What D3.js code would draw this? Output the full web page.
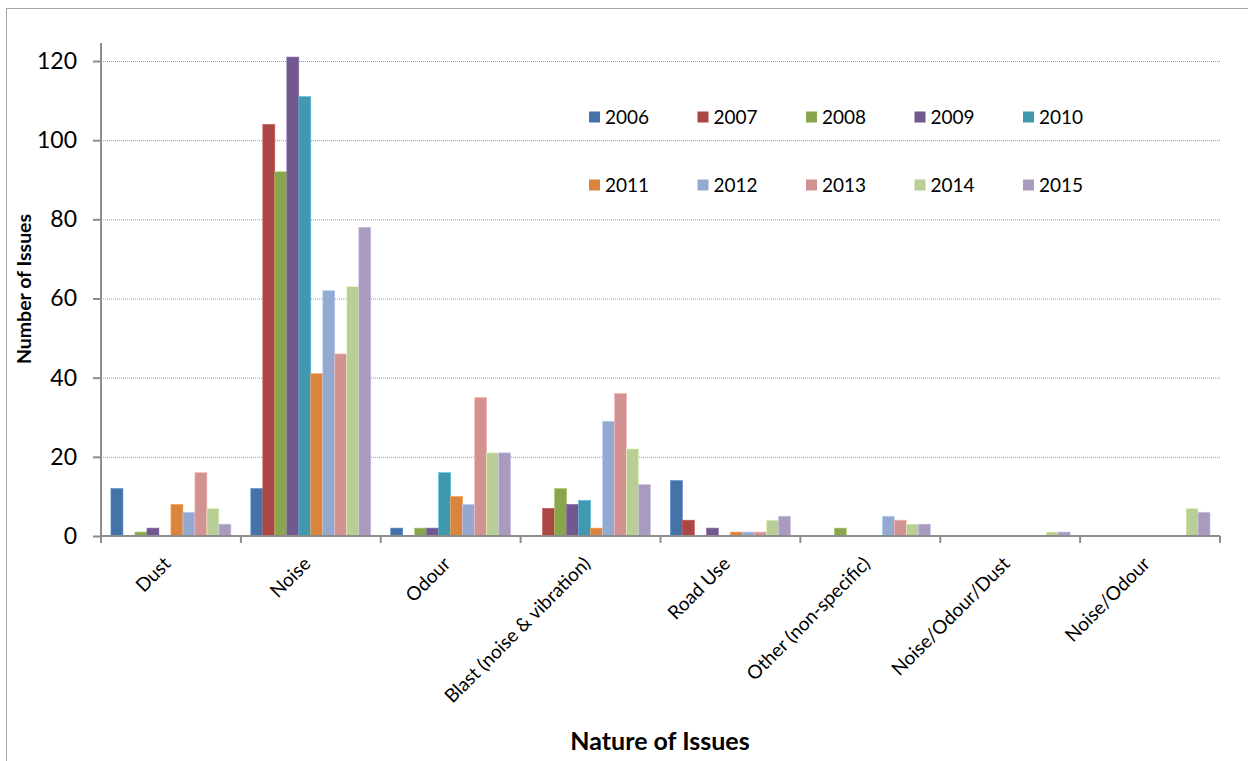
<!DOCTYPE html>
<html><head><meta charset="utf-8">
<script src="https://cdn.jsdelivr.net/npm/d3@7"></script>
<style>body{margin:0;background:#fff;font-family:Lato,"Liberation Sans",sans-serif;}</style>
</head><body>
<svg id="c" width="1248" height="761"></svg>
<script>
const categories = ["Dust","Noise","Odour","Blast (noise & vibration)","Road Use","Other (non-specific)","Noise/Odour/Dust","Noise/Odour"];
const years = ["2006","2007","2008","2009","2010","2011","2012","2013","2014","2015"];
const v2006 = [12,12,2,0,14,0,0,0];
const v2007 = [0,104,0,7,4,0,0,0];
const v2008 = [1,92,2,12,0,2,0,0];
const v2009 = [2,121,2,8,2,0,0,0];
const v2010 = [0,111,16,9,0,0,0,0];
const v2011 = [8,41,10,2,1,0,0,0];
const v2012 = [6,62,8,29,1,5,0,0];
const v2013 = [16,46,35,36,1,4,0,0];
const v2014 = [7,63,21,22,4,3,1,7];
const v2015 = [3,78,21,13,5,3,1,6];
const series = [v2006,v2007,v2008,v2009,v2010,v2011,v2012,v2013,v2014,v2015];
const colors = ["#4572A7","#AA4643","#89A54E","#71588F","#4198AF","#DB843D","#93A9CF","#D19392","#B9CD96","#A99BBD"];
const yTicks = [0,20,40,60,80,100,120];

const svg = d3.select("#c");
svg.append("rect").attr("x",6.5).attr("y",8.5).attr("width",1260).attr("height",780)
  .attr("fill","#fff").attr("stroke","#a6a6a6").attr("stroke-width",1);

const L=101, R=1220, T=61, B=536;
const x0 = d3.scaleBand().domain(categories).range([L,R]).paddingInner(0).paddingOuter(0);
const x1 = d3.scaleBand().domain(years).range([0,x0.bandwidth()]).paddingOuter(0.83).paddingInner(0);
const y = d3.scaleLinear().domain([0,120]).range([B,T]);

// gridlines
svg.append("g").selectAll("line").data(yTicks.filter(d=>d>0)).join("line")
  .attr("x1",L).attr("x2",R).attr("y1",d=>y(d)+0.5).attr("y2",d=>y(d)+0.5)
  .attr("stroke","#9a9a9a").attr("stroke-width",1).attr("stroke-dasharray","1,1");

// bars
const g = svg.append("g");
series.forEach((s,i)=>{
  g.append("g").selectAll("rect").data(s.map((v,j)=>({v,c:categories[j]})).filter(d=>d.v>0)).join("rect")
    .attr("x",d=>x0(d.c)+x1(years[i]))
    .attr("width",x1.bandwidth())
    .attr("y",d=>y(d.v))
    .attr("height",d=>B-y(d.v))
    .attr("fill",colors[i])
    .attr("stroke",d3.color(colors[i]).brighter(0.6)).attr("stroke-width",0.6);
});

// y axis
const ya = svg.append("g").attr("transform",`translate(${L},0)`)
  .call(d3.axisLeft(y).tickValues(yTicks).tickSize(8).tickPadding(16).tickFormat(d3.format("d")));
ya.select(".domain").attr("stroke","#8c8c8c").attr("stroke-width",2).attr("d",`M0,${T-18}V${B}`);
ya.selectAll(".tick line").attr("stroke","#8c8c8c").attr("stroke-width",2);
ya.selectAll(".tick text").attr("font-family","Lato, sans-serif").attr("font-size",23).attr("fill","#000");

// x axis
const xa = svg.append("g").attr("transform",`translate(0,${B})`);
xa.append("line").attr("x1",L).attr("x2",R).attr("y1",0).attr("y2",0).attr("stroke","#8c8c8c").attr("stroke-width",2);
const bounds = categories.map(c=>x0(c)).concat([R]);
xa.selectAll("line.tk").data(bounds).join("line").attr("class","tk")
  .attr("x1",d=>d).attr("x2",d=>d).attr("y1",0).attr("y2",7).attr("stroke","#8c8c8c").attr("stroke-width",2);
xa.selectAll("text").data(categories).join("text")
  .attr("transform",d=>`translate(${x0(d)+x0.bandwidth()/2+1},${29}) rotate(-45)`)
  .attr("text-anchor","end").attr("font-family","Lato, sans-serif").attr("font-size",19).attr("fill","#000")
  .text(d=>d);

// axis titles
svg.append("text").attr("transform","translate(31,289) rotate(-90)").attr("text-anchor","middle")
  .attr("font-family","Lato, sans-serif").attr("font-weight","bold").attr("font-size",19.5).text("Number of Issues");
svg.append("text").attr("x",660).attr("y",750).attr("text-anchor","middle")
  .attr("font-family","Lato, sans-serif").attr("font-weight","bold").attr("font-size",25).text("Nature of Issues");

// legend
const lg = svg.append("g");
years.forEach((yr,i)=>{
  const col=i%5, row=Math.floor(i/5);
  const lx = 589 + col*108.5, ly = 117 + row*68;
  lg.append("rect").attr("x",lx).attr("y",ly-5.5).attr("width",11).attr("height",11).attr("fill",colors[i]);
  lg.append("text").attr("x",lx+16).attr("y",ly+7).attr("font-family","Lato, sans-serif").attr("font-size",19).attr("fill","#000").text(yr);
});
</script>
</body></html>
